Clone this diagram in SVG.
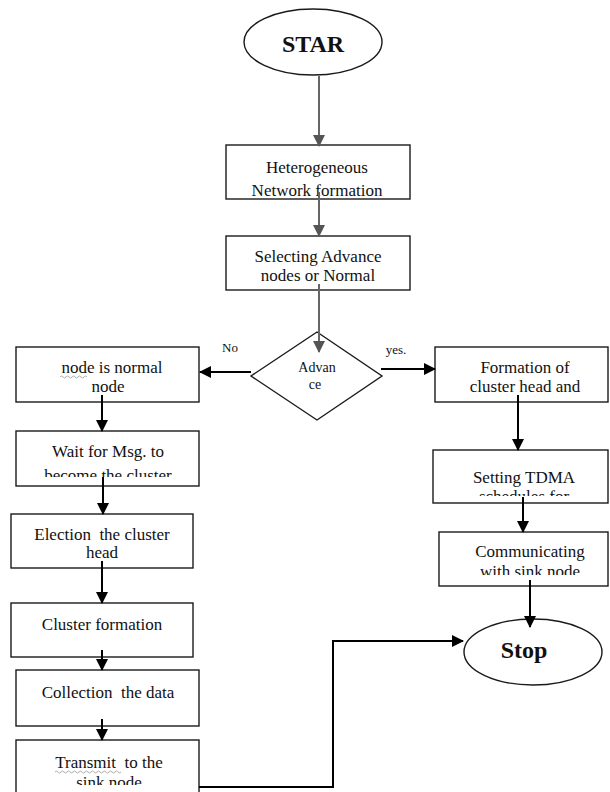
<svg xmlns="http://www.w3.org/2000/svg" width="610" height="792" viewBox="0 0 610 792">
<style>
.box{fill:#fff;stroke:#1a1a1a;stroke-width:1.4}
.t{font-family:"Liberation Serif","Times New Roman",serif;font-size:17px;fill:#111;text-anchor:middle;white-space:pre}
.b{font-family:"Liberation Serif","Times New Roman",serif;font-size:24px;font-weight:bold;fill:#111;text-anchor:middle}
.s{font-family:"Liberation Serif","Times New Roman",serif;fill:#111;text-anchor:middle}
.c{fill:none;stroke:#000;stroke-width:2}
.g{fill:none;stroke:#666;stroke-width:2}
.sq{fill:none;stroke:#999;stroke-width:0.8}
</style>
<defs>
<marker id="ab" viewBox="0 0 12 12" markerWidth="12" markerHeight="12" refX="11" refY="6" orient="auto" markerUnits="userSpaceOnUse"><path d="M0,0 L12,6 L0,12 Z" fill="#000"/></marker>
<marker id="ag" viewBox="0 0 12 12" markerWidth="12" markerHeight="12" refX="11" refY="6" orient="auto" markerUnits="userSpaceOnUse"><path d="M0,0 L12,6 L0,12 Z" fill="#555"/></marker>
<clipPath id="c1"><rect x="226" y="145" width="184" height="53"/></clipPath>
<clipPath id="c2"><rect x="16" y="431" width="183" height="46"/></clipPath>
<clipPath id="c3"><rect x="433" y="450" width="175" height="46"/></clipPath>
<clipPath id="c4"><rect x="439" y="532" width="169" height="43"/></clipPath>
<clipPath id="c5"><rect x="16" y="740" width="183" height="45"/></clipPath>
</defs>
<g id="start">
<ellipse cx="313" cy="42" rx="69" ry="33" fill="#fff" stroke="#1a1a1a" stroke-width="1.4"/>
<text class="b" x="313" y="52">STAR</text>
</g>
<g id="hetero">
<rect class="box" x="226" y="145" width="184" height="54"/>
<g clip-path="url(#c1)">
<text class="t" x="317" y="173">Heterogeneous</text>
<text class="t" x="317" y="196">Network formation</text>
</g>
</g>
<g id="selecting">
<rect class="box" x="226" y="236" width="184" height="54"/>
<text class="t" x="318" y="262">Selecting Advance</text>
<text class="t" x="318" y="281">nodes or Normal</text>
</g>
<g id="decision">
<polygon points="317,332 382,376 317,420 251,376" fill="#fff" stroke="#1a1a1a" stroke-width="1.4"/>
<text class="s" x="317" y="372" font-size="14">Advan</text>
<text class="s" x="315" y="389" font-size="14">ce</text>
</g>
<g id="normal">
<rect class="box" x="16" y="347" width="183" height="55"/>
<text class="t" x="112" y="373">node is normal</text>
<text class="t" x="108" y="392">node</text>
<path class="sq" d="M60,377 q1.5,-2 3,0 t3,0 t3,0 t3,0 t3,0 t3,0 t3,0 t3,0 t3,0"/>
</g>
<g id="wait">
<rect class="box" x="16" y="431" width="183" height="55"/>
<g clip-path="url(#c2)">
<text class="t" x="108" y="457">Wait for Msg. to</text>
<text class="t" x="108" y="481">become the cluster</text>
</g>
</g>
<g id="election">
<rect class="box" x="11" y="514" width="182" height="54"/>
<text class="t" x="102" y="540" xml:space="preserve">Election  the cluster</text>
<text class="t" x="102" y="558">head</text>
</g>
<g id="clusterformation">
<rect class="box" x="11" y="603" width="182" height="54"/>
<text class="t" x="102" y="630">Cluster formation</text>
</g>
<g id="collection">
<rect class="box" x="16" y="670" width="183" height="56"/>
<text class="t" x="108" y="698" xml:space="preserve">Collection  the data</text>
</g>
<g id="transmit">
<rect class="box" x="16" y="740" width="183" height="60"/>
<g clip-path="url(#c5)">
<text class="t" x="109" y="768" xml:space="preserve">Transmit  to the</text>
<text class="t" x="109" y="788">sink node</text>
</g>
<path class="sq" d="M55,772 q1.5,-2 3,0 t3,0 t3,0 t3,0 t3,0 t3,0 t3,0 t3,0 t3,0 t3,0 t3,0 t3,0 t3,0 t3,0 t3,0 t3,0 t3,0 t3,0 t3,0 t3,0 t3,0 t3,0"/>
</g>
<g id="formation">
<rect class="box" x="435" y="347" width="173" height="55"/>
<text class="t" x="525" y="373">Formation of</text>
<text class="t" x="525" y="392">cluster head and</text>
</g>
<g id="tdma">
<rect class="box" x="433" y="450" width="175" height="53"/>
<g clip-path="url(#c3)">
<text class="t" x="524" y="483">Setting TDMA</text>
<text class="t" x="524" y="502">schedules for</text>
</g>
</g>
<g id="communicating">
<rect class="box" x="439" y="532" width="169" height="54"/>
<g clip-path="url(#c4)">
<text class="t" x="530" y="557">Communicating</text>
<text class="t" x="530" y="577">with sink node</text>
</g>
</g>
<g id="stop">
<ellipse cx="533" cy="652" rx="69" ry="33" fill="#fff" stroke="#1a1a1a" stroke-width="1.4"/>
<text class="b" x="524" y="658">Stop</text>
</g>
<g id="connectors">
<path class="g" d="M319,76 V146" marker-end="url(#ag)"/>
<path class="g" d="M319,192 V236" marker-end="url(#ag)"/>
<path class="g" d="M319,284 V352" marker-end="url(#ag)"/>
<path class="c" d="M251,372 H200" marker-end="url(#ab)"/>
<path class="c" d="M381,369 H435" marker-end="url(#ab)"/>
<path class="c" d="M518,395 V450" marker-end="url(#ab)"/>
<path class="c" d="M523,497 V532" marker-end="url(#ab)"/>
<path class="c" d="M530,580 V627" marker-end="url(#ab)"/>
<path class="c" d="M102,395 V431" marker-end="url(#ab)"/>
<path class="c" d="M103,477 V514" marker-end="url(#ab)"/>
<path class="c" d="M102,561 V603" marker-end="url(#ab)"/>
<path class="c" d="M102,650 V670" marker-end="url(#ab)"/>
<path class="c" d="M102,719 V740" marker-end="url(#ab)"/>
<path class="c" d="M199,787 H333 V641 H463" marker-end="url(#ab)"/>
<text class="s" x="230" y="352" font-size="13">No</text>
<text class="s" x="396" y="354" font-size="13" fill="#444">yes.</text>
</g>
</svg>
